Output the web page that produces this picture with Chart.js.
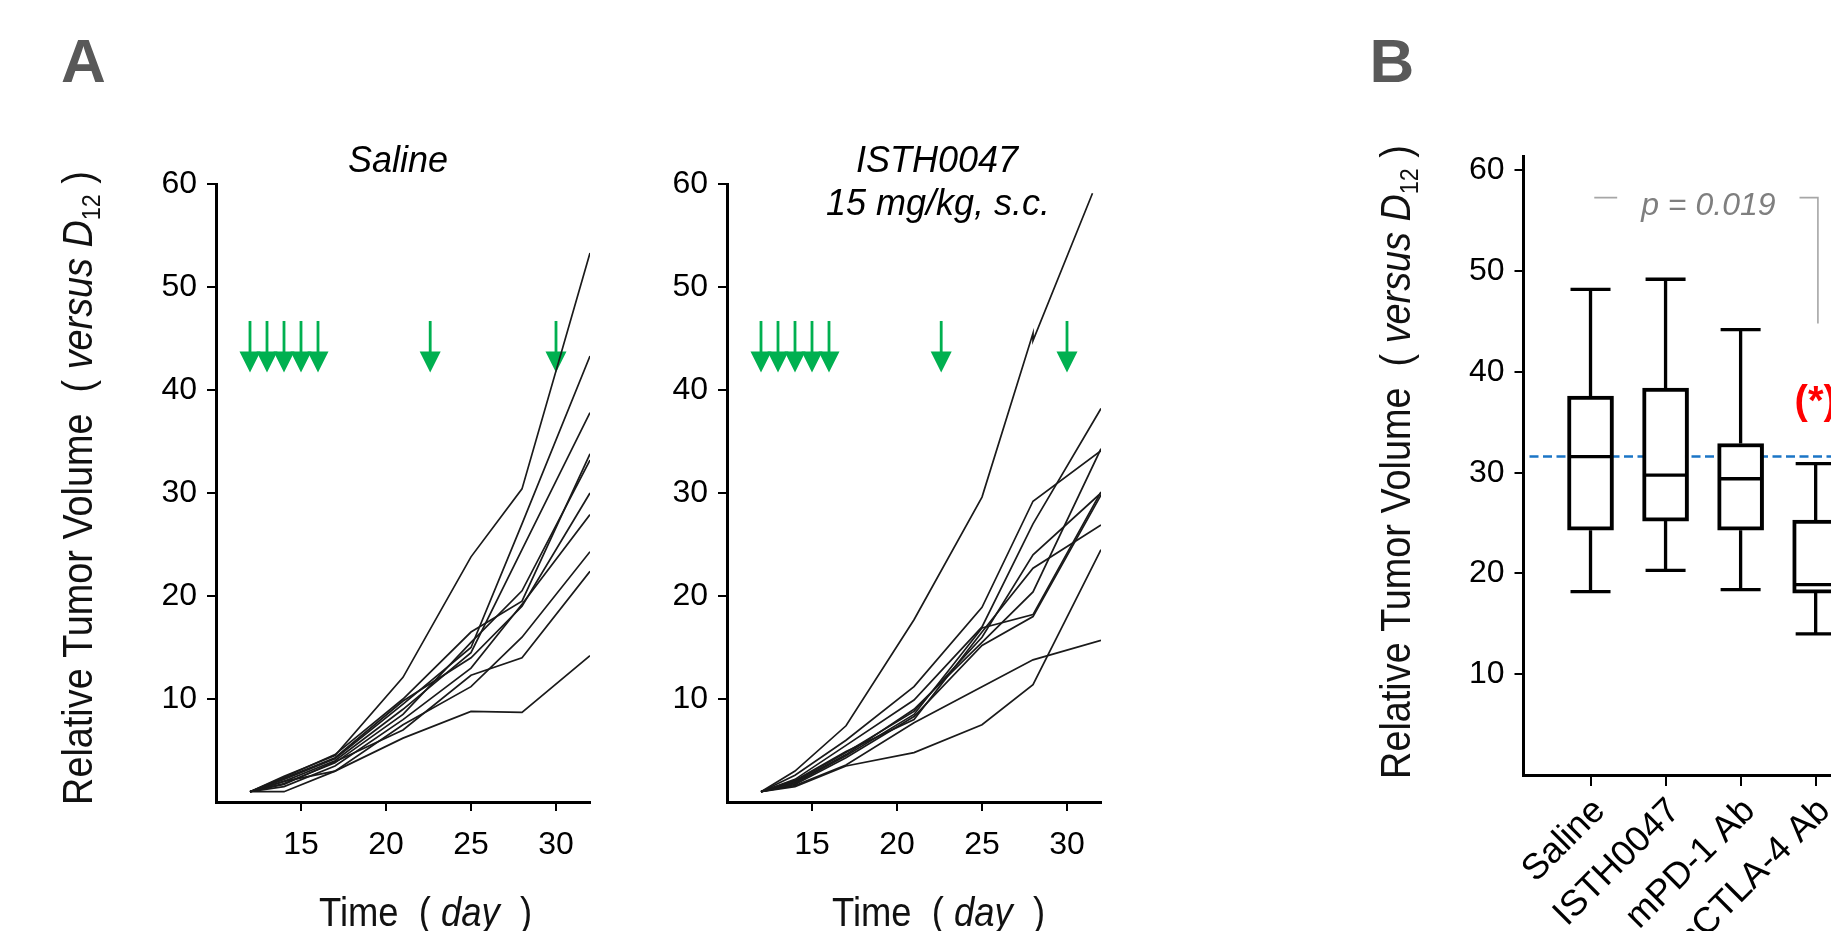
<!DOCTYPE html>
<html><head><meta charset="utf-8">
<script src="https://cdn.jsdelivr.net/npm/chart.js@4.4.0/dist/chart.umd.min.js"></script>
<style>
html,body{margin:0;padding:0;width:1831px;height:931px;overflow:hidden;background:#fff;}
canvas{position:absolute;top:0;}
</style></head><body>
<canvas id="a1" width="620" height="931" style="left:0px"></canvas>
<canvas id="a2" width="520" height="931" style="left:620px"></canvas>
<canvas id="b" width="600" height="931" style="left:1350px"></canvas>
<script>
// ---------- DATA ----------
const days = [12, 14, 17, 21, 25, 28, 32];
const xTickDays = [15, 20, 25, 30];
const yTicksA = [10, 20, 30, 40, 50, 60];
const doseDays = [12, 13, 14, 15, 16, 22.6, 30];
const doseArrowTop = 46.7;
const doseArrowTip = 41.7;

const salineLines = [
  [1, 2.5, 4.5, 12.1, 23.8, 30.4, 53.3],
  [1, 2.2, 4.2, 9.5, 15.0, 27.0, 43.3],
  [1, 2.0, 4.0, 9.0, 14.5, 24.5, 37.8],
  [1, 2.4, 4.6, 10.0, 16.5, 19.5, 33.8],
  [1, 1.8, 3.8, 8.5, 15.5, 20.5, 33.2],
  [1, 2.3, 4.3, 9.8, 14.0, 19.0, 30.0],
  [1, 1.5, 3.5, 8.0, 13.0, 19.2, 27.9],
  [1, 2.0, 3.0, 7.5, 11.2, 16.0, 24.3],
  [1, 1.7, 3.9, 7.0, 12.3, 14.0, 22.4],
  [1, 1.0, 3.0, 6.2, 8.8, 8.7, 14.2]
];

const isthTopDays = [12, 14, 17, 21, 25, 28, 28, 31.5];
const isthTopLine = [1, 3.0, 7.4, 17.7, 29.6, 45.5, 44.8, 59.1];
const isthLines = [
  [1, 2.6, 6.0, 11.2, 18.9, 29.2, 34.1],
  [1, 2.2, 5.5, 9.9, 17.0, 27.0, 38.2],
  [1, 2.0, 4.8, 8.8, 16.0, 24.0, 30.0],
  [1, 1.8, 4.5, 8.5, 16.9, 18.2, 30.1],
  [1, 1.7, 4.3, 8.3, 15.2, 18.0, 29.8],
  [1, 1.9, 4.6, 9.0, 15.5, 20.4, 34.3],
  [1, 2.1, 4.9, 8.0, 16.5, 22.7, 26.9],
  [1, 1.5, 3.5, 4.8, 7.5, 11.4, 24.5],
  [1, 1.6, 3.6, 7.7, 11.2, 13.8, 15.7]
];

const groups = ['Saline', 'ISTH0047', 'mPD-1 Ab', 'mCTLA-4 Ab'];
const whiskerLow  = [18.2, 20.3, 18.4, 14.0];
const q1          = [24.3, 25.2, 24.3, 18.05];
const median      = [31.6, 29.75, 29.4, 18.9];
const q3          = [37.6, 38.4, 32.9, 25.3];
const whiskerHigh = [48.2, 49.2, 44.2, 30.9];
const yTicksB = [10, 20, 30, 40, 50, 60];
const pValueText = 'p = 0.019';
const bracketStart = 1.05, bracketEnd = 4.03, bracketLevel = 57.3, bracketDropTo = 44.8, pTextCenter = 2.57;
const starText = '(*)', starGroup = 4, starLevel = 36.9;

// ---------- HELPERS ----------
const FONT = '"Liberation Sans", Arial, Helvetica, sans-serif';
Chart.defaults.font.family = FONT;
const yTitleSegs = [{t: 'Relative Tumor Volume  ( '}, {t: 'versus D', italic: true}, {t: '12', sub: true}, {t: ' )'}];
const xTitleSegs = [{t: 'Time  ( '}, {t: 'day', italic: true}, {t: '  )'}];

function fontOf(s, size) {
  const sz = s.sub ? size * 0.62 : size;
  return (s.italic ? 'italic ' : '') + (s.bold ? 'bold ' : '') + sz + 'px ' + FONT;
}
function drawRich(ctx, segs, size, align) {
  let w = 0;
  for (const s of segs) { ctx.font = fontOf(s, size); w += ctx.measureText(s.t).width; }
  let x = align === 'center' ? -w / 2 : 0;
  ctx.textAlign = 'left'; ctx.textBaseline = 'alphabetic';
  for (const s of segs) {
    ctx.font = fontOf(s, size);
    ctx.fillText(s.t, x, s.sub ? size * 0.2 : 0);
    x += ctx.measureText(s.t).width;
  }
}
function drawArrows(chart) {
  const ctx = chart.ctx, xs = chart.scales.x, ys = chart.scales.y;
  ctx.save();
  ctx.fillStyle = '#00b050';
  for (const d of doseDays) {
    const px = xs.getPixelForValue(d);
    const top = ys.getPixelForValue(doseArrowTop);
    const tip = ys.getPixelForValue(doseArrowTip);
    ctx.fillRect(px - 1.4, top, 2.8, tip - top - 18);
    ctx.beginPath();
    ctx.moveTo(px - 10.5, tip - 21);
    ctx.lineTo(px + 10.5, tip - 21);
    ctx.lineTo(px, tip);
    ctx.closePath();
    ctx.fill();
  }
  ctx.restore();
}
function lineSet(xsArr, vals) {
  return {
    data: xsArr.map((d, i) => ({x: d, y: vals[i]})),
    borderColor: '#1a1a1a', borderWidth: 1.7, pointRadius: 0, tension: 0, fill: false
  };
}
function axisCommon() {
  return {
    grid: {display: true, drawOnChartArea: false, drawTicks: true, tickLength: 9, lineWidth: 2, color: '#000', offset: false},
    border: {display: true, color: '#000', width: 3}
  };
}

function makeLineChart(id, datasets, yWidth, padRight, deco) {
  const ax = axisCommon(), ay = axisCommon();
  return new Chart(document.getElementById(id), {
    type: 'line',
    data: {datasets},
    options: {
      responsive: false, animation: false, devicePixelRatio: 1,
      layout: {padding: {left: 0, right: padRight, top: 184, bottom: 0}},
      plugins: {legend: {display: false}, tooltip: {enabled: false}, title: {display: false}},
      scales: {
        x: Object.assign(ax, {
          type: 'linear', min: 10, max: 32,
          afterBuildTicks: s => { s.ticks = xTickDays.map(v => ({value: v})); },
          afterFit: s => { s.height = 931 - 802; },
          ticks: {font: {size: 32}, color: '#000', padding: 15, maxRotation: 0, autoSkip: false}
        }),
        y: Object.assign(ay, {
          type: 'linear', min: 0, max: 60,
          afterBuildTicks: s => { s.ticks = yTicksA.map(v => ({value: v})); },
          afterFit: s => { s.width = yWidth; },
          ticks: {font: {size: 32}, color: '#000', padding: 10, autoSkip: false}
        })
      }
    },
    plugins: [deco]
  });
}

// ---------- PANEL A: Saline ----------
makeLineChart('a1', salineLines.map(v => lineSet(days, v)), 216, 30, {
  id: 'a1deco',
  beforeDatasetsDraw(chart) { drawArrows(chart); },
  afterDraw(chart) {
    const ctx = chart.ctx;
    ctx.save();
    ctx.fillStyle = '#595959'; ctx.font = 'bold 62px ' + FONT; ctx.textAlign = 'left'; ctx.textBaseline = 'alphabetic';
    ctx.fillText('A', 61, 81.5);
    ctx.fillStyle = '#000'; ctx.font = 'italic 36px ' + FONT; ctx.textAlign = 'center';
    ctx.fillText('Saline', 398, 172);
    ctx.restore();
    ctx.save(); ctx.fillStyle = '#111';
    ctx.translate(91.5, 488); ctx.rotate(-Math.PI / 2); ctx.scale(0.9, 1);
    drawRich(ctx, yTitleSegs, 42, 'center');
    ctx.restore();
    ctx.save(); ctx.fillStyle = '#111';
    ctx.translate(319, 926); ctx.scale(0.91, 1);
    drawRich(ctx, xTitleSegs, 40, 'left');
    ctx.restore();
  }
});

// ---------- PANEL A: ISTH0047 ----------
makeLineChart('a2', [lineSet(isthTopDays, isthTopLine)].concat(isthLines.map(v => lineSet(days, v))), 107, 39, {
  id: 'a2deco',
  beforeDatasetsDraw(chart) { drawArrows(chart); },
  afterDraw(chart) {
    const ctx = chart.ctx;
    ctx.save();
    ctx.fillStyle = '#000'; ctx.font = 'italic 36px ' + FONT; ctx.textAlign = 'center'; ctx.textBaseline = 'alphabetic';
    ctx.fillText('ISTH0047', 317, 172);
    ctx.fillText('15 mg/kg, s.c.', 318, 214.5);
    ctx.restore();
    ctx.save(); ctx.fillStyle = '#111';
    ctx.translate(212, 926); ctx.scale(0.91, 1);
    drawRich(ctx, xTitleSegs, 40, 'left');
    ctx.restore();
  }
});

// ---------- PANEL B: box plot ----------
const bx = axisCommon(), by = axisCommon();
bx.grid.tickLength = 11;
new Chart(document.getElementById('b'), {
  type: 'bar',
  data: {
    datasets: [{
      data: groups.map((g, i) => ({x: i + 1, y: [q1[i], q3[i]]})),
      backgroundColor: '#fff', borderColor: '#000', borderWidth: 4, borderSkipped: false,
      barThickness: 46, grouped: false
    }]
  },
  options: {
    responsive: false, animation: false, devicePixelRatio: 1,
    layout: {padding: {left: 0, right: 0, top: 156, bottom: 0}},
    plugins: {legend: {display: false}, tooltip: {enabled: false}},
    scales: {
      x: Object.assign(bx, {
        type: 'linear', min: 0.107, max: 5.79, offset: false,
        afterBuildTicks: s => { s.ticks = groups.map((g, i) => ({value: i + 1})); },
        afterFit: s => { s.height = 931 - 775; },
        ticks: {font: {size: 36}, color: '#000', padding: 4, labelOffset: 9, maxRotation: 45, minRotation: 45, autoSkip: false,
                callback: v => groups[Math.round(v) - 1]}
      }),
      y: Object.assign(by, {
        type: 'linear', min: 0, max: 61.43, beginAtZero: true,
        afterBuildTicks: s => { s.ticks = yTicksB.map(v => ({value: v})); },
        afterFit: s => { s.width = 173.5; },
        ticks: {font: {size: 32}, color: '#000', padding: 10, autoSkip: false}
      })
    }
  },
  plugins: [{
    id: 'boxdeco',
    beforeDatasetsDraw(chart) {
      const ctx = chart.ctx, ys = chart.scales.y, ca = chart.chartArea;
      ctx.save();
      ctx.strokeStyle = '#1b75c6'; ctx.lineWidth = 2.5; ctx.setLineDash([9, 4.5]);
      const yy = ys.getPixelForValue(median[0]);
      ctx.beginPath(); ctx.moveTo(ca.left + 6, yy); ctx.lineTo(ca.right, yy); ctx.stroke();
      ctx.restore();
    },
    afterDatasetsDraw(chart) {
      const ctx = chart.ctx, xs = chart.scales.x, ys = chart.scales.y;
      ctx.save();
      ctx.strokeStyle = '#000'; ctx.lineCap = 'butt';
      groups.forEach((g, i) => {
        const px = xs.getPixelForValue(i + 1);
        ctx.lineWidth = 3.3;
        ctx.beginPath();
        ctx.moveTo(px, ys.getPixelForValue(q3[i])); ctx.lineTo(px, ys.getPixelForValue(whiskerHigh[i]));
        ctx.moveTo(px, ys.getPixelForValue(q1[i])); ctx.lineTo(px, ys.getPixelForValue(whiskerLow[i]));
        ctx.moveTo(px - 20, ys.getPixelForValue(whiskerHigh[i])); ctx.lineTo(px + 20, ys.getPixelForValue(whiskerHigh[i]));
        ctx.moveTo(px - 20, ys.getPixelForValue(whiskerLow[i])); ctx.lineTo(px + 20, ys.getPixelForValue(whiskerLow[i]));
        ctx.stroke();
        ctx.lineWidth = 3.3;
        ctx.beginPath();
        ctx.moveTo(px - 21, ys.getPixelForValue(median[i])); ctx.lineTo(px + 21, ys.getPixelForValue(median[i]));
        ctx.stroke();
      });
      ctx.restore();
    },
    afterDraw(chart) {
      const ctx = chart.ctx, xs = chart.scales.x, ys = chart.scales.y;
      ctx.save();
      ctx.fillStyle = '#595959'; ctx.font = 'bold 62px ' + FONT; ctx.textAlign = 'left'; ctx.textBaseline = 'alphabetic';
      ctx.fillText('B', 19.5, 81.5);
      ctx.restore();
      // y title
      ctx.save(); ctx.fillStyle = '#111';
      ctx.translate(60, 462); ctx.rotate(-Math.PI / 2); ctx.scale(0.9, 1);
      drawRich(ctx, yTitleSegs, 42, 'center');
      ctx.restore();
      // p value bracket
      ctx.save();
      ctx.font = 'italic 32px ' + FONT;
      const tw = ctx.measureText(pValueText).width;
      const cx = xs.getPixelForValue(pTextCenter);
      const by0 = ys.getPixelForValue(bracketLevel);
      ctx.fillStyle = '#7f7f7f'; ctx.textAlign = 'center'; ctx.textBaseline = 'alphabetic';
      ctx.fillText(pValueText, cx, by0 + 17);
      ctx.strokeStyle = '#a6a6a6'; ctx.lineWidth = 1.6;
      const xl = xs.getPixelForValue(bracketStart), xr = xs.getPixelForValue(bracketEnd);
      ctx.beginPath();
      ctx.moveTo(xl, by0); ctx.lineTo(cx - tw / 2 - 24, by0);
      ctx.moveTo(cx + tw / 2 + 24, by0); ctx.lineTo(xr, by0); ctx.lineTo(xr, ys.getPixelForValue(bracketDropTo));
      ctx.stroke();
      // significance marker
      ctx.fillStyle = '#ff0000'; ctx.font = 'bold 40px ' + FONT; ctx.textAlign = 'center'; ctx.textBaseline = 'middle';
      ctx.fillText(starText, xs.getPixelForValue(starGroup), ys.getPixelForValue(starLevel));
      ctx.restore();
    }
  }]
});
</script>
</body></html>
